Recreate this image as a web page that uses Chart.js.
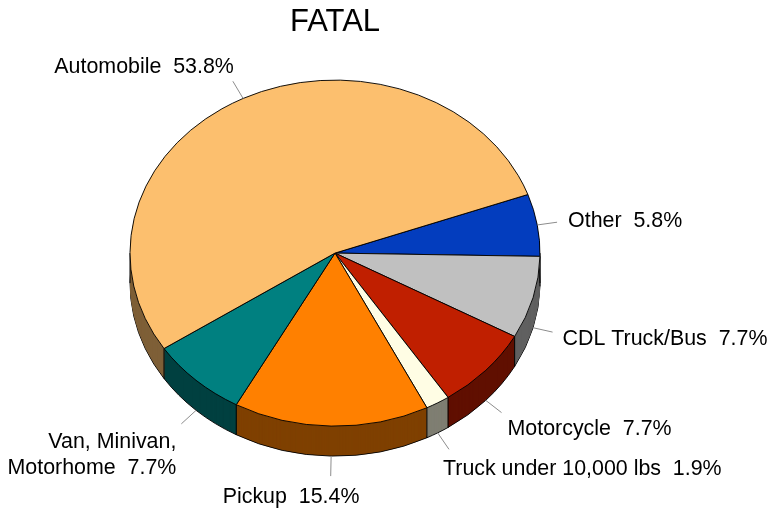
<!DOCTYPE html>
<html>
<head>
<meta charset="utf-8">
<script src="https://cdn.jsdelivr.net/npm/chart.js@4.4.1/dist/chart.umd.min.js"></script>
<style>
  html, body { margin: 0; padding: 0; background: #fff; }
  canvas { display: block; }
</style>
</head>
<body>
<canvas id="fatalChart" width="769" height="512"></canvas>
<script>
// Chart data (clockwise, starting at the top-right "Other" slice)
const categories = ['Other', 'CDL Truck/Bus', 'Motorcycle', 'Truck under 10,000 lbs', 'Pickup', 'Van, Minivan,\nMotorhome', 'Automobile'];
const shares = [5.8, 7.7, 7.7, 1.9, 15.4, 7.7, 53.8];
const sliceColors = ['#033dbe', '#c0c0c0', '#c01f00', '#fffde4', '#ff8000', '#008080', '#fcbf6e'];

// label text position relative to the end of its leader line: [dx, dy, align]
const labelOffsets = [
    [11, 5, 'left'],
    [10, 13, 'left'],
    [6, 22, 'left'],
    [-6, 26, 'left'],
    [-108, 27, 'left'],
    [-5, 24, 'right'],
    [1, -8, 'right']
];

const TILT = 0.844;   // vertical squash of the pie
const DEPTH = 30;     // thickness of the pie in px
const LEADER = 20;    // leader line length

Chart.defaults.font.family = "'Liberation Sans', Arial, Helvetica, sans-serif";
Chart.defaults.color = '#000';

function shade(hex) {
    const n = parseInt(hex.slice(1), 16);
    const r = (n >> 16) & 255, g = (n >> 8) & 255, b = n & 255;
    return `rgb(${r >> 1}, ${g >> 1}, ${b >> 1})`;
}

// draw an arc element with a few options swapped out
function drawWith(arc, ctx, over) {
    const saved = arc.options;
    arc.options = Object.assign({}, saved, over);
    arc.draw(ctx);
    arc.options = saved;
}

const pie3d = {
    id: 'pie3d',
    beforeDatasetsDraw(chart) {
        const ctx = chart.ctx;
        const arcs = chart.getDatasetMeta(0).data;
        const { x: cx, y: cy, outerRadius: r } = arcs[0];
        const tilt = () => {
            ctx.translate(cx, cy);
            ctx.scale(1, TILT);
            ctx.translate(-cx, -cy);
        };

        // side wall: darker copies of the slices stacked downward
        for (let d = DEPTH; d >= 1; d--) {
            ctx.save();
            ctx.translate(0, d);
            tilt();
            arcs.forEach((arc, i) => drawWith(arc, ctx, {
                backgroundColor: shade(sliceColors[i]),
                borderWidth: d === DEPTH ? 1 : 0
            }));
            ctx.restore();
        }

        // vertical edges on the front side
        ctx.save();
        ctx.strokeStyle = '#000';
        ctx.lineWidth = 1;
        const edges = arcs.map(a => a.startAngle).concat([0, Math.PI]);
        edges.forEach(a => {
            const s = Math.sin(a);
            if (s < -1e-6) return;
            const x = cx + r * Math.cos(a);
            const y = cy + r * TILT * s;
            ctx.beginPath();
            ctx.moveTo(x, y);
            ctx.lineTo(x, y + DEPTH);
            ctx.stroke();
        });
        ctx.restore();

        // top face
        ctx.save();
        tilt();
        arcs.forEach(arc => arc.draw(ctx));
        ctx.restore();
        return false;
    },
    afterDraw(chart) {
        const ctx = chart.ctx;
        const arcs = chart.getDatasetMeta(0).data;
        ctx.save();
        ctx.font = "21.4px 'Liberation Sans', Arial, Helvetica, sans-serif";
        ctx.fillStyle = '#000';
        ctx.textBaseline = 'alphabetic';
        arcs.forEach((arc, i) => {
            const mid = (arc.startAngle + arc.endAngle) / 2;
            const c = Math.cos(mid), s = Math.sin(mid);
            const x0 = arc.x + arc.outerRadius * c;
            const y0 = arc.y + arc.outerRadius * TILT * s + (s > 0 ? DEPTH : 0);
            const len = Math.hypot(c, TILT * s);
            const x1 = x0 + LEADER * c / len;
            const y1 = y0 + LEADER * TILT * s / len;

            ctx.strokeStyle = '#8c8c8c';
            ctx.lineWidth = 1;
            ctx.beginPath();
            ctx.moveTo(x0, y0);
            ctx.lineTo(x1, y1);
            ctx.stroke();

            const [dx, dy, align] = labelOffsets[i];
            const lines = categories[i].split('\n');
            lines[lines.length - 1] += '  ' + shares[i].toFixed(1) + '%';
            ctx.textAlign = align;
            lines.forEach((t, j) => ctx.fillText(t, x1 + dx, y1 + dy + j * 26));
        });
        ctx.restore();
    }
};

new Chart(document.getElementById('fatalChart'), {
    type: 'pie',
    data: {
        labels: categories,
        datasets: [{
            data: shares,
            backgroundColor: sliceColors,
            borderColor: '#000',
            borderWidth: 1,
            hoverOffset: 0
        }]
    },
    options: {
        responsive: false,
        animation: false,
        events: [],
        rotation: 70.2,
        radius: 205,
        layout: {
            padding: { left: 130, right: 229, top: 0, bottom: 57 }
        },
        plugins: {
            legend: { display: false },
            tooltip: { enabled: false },
            title: {
                display: true,
                text: 'FATAL',
                color: '#000',
                font: { size: 31, weight: 'normal' },
                padding: { top: 4, bottom: 10 }
            }
        }
    },
    plugins: [pie3d]
});
</script>
</body>
</html>
